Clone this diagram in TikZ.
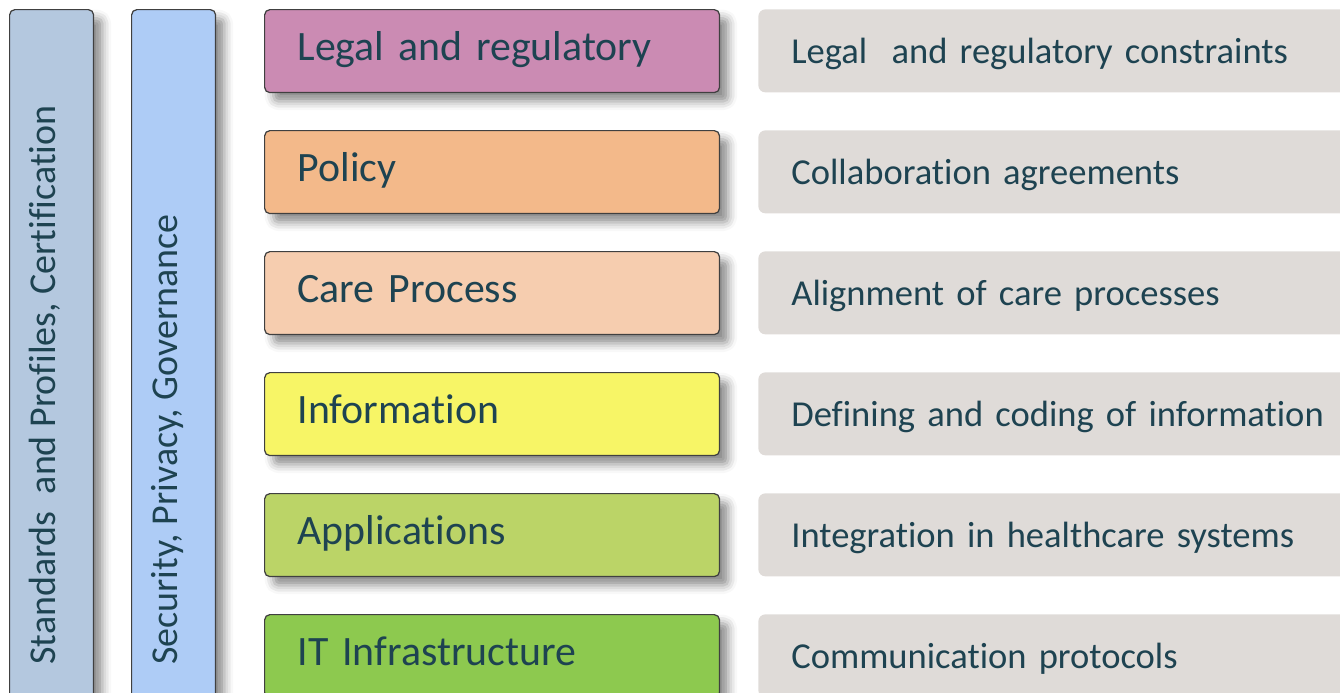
\documentclass[tikz,border=0pt]{standalone}
\usepackage{fontspec}
\setmainfont{Carlito}[Ligatures=NoCommon]
\usetikzlibrary{shadows.blur}

\definecolor{txtcol}{HTML}{1E4351}
\definecolor{stdblue}{HTML}{B4C8DF}
\definecolor{secblue}{HTML}{AECCF6}
\definecolor{legalpink}{HTML}{CB8BB3}
\definecolor{policyorange}{HTML}{F3B98A}
\definecolor{careskin}{HTML}{F6CDAF}
\definecolor{infoyellow}{HTML}{F7F566}
\definecolor{appgreen}{HTML}{BBD467}
\definecolor{itgreen}{HTML}{8DC94F}
\definecolor{goalgrey}{HTML}{DFDBD8}

\begin{document}
\begin{tikzpicture}[x=0.02cm,y=-0.02cm]
\useasboundingbox (0,0) rectangle (1340,693);
\clip (0,0) rectangle (1340,693);
\tikzstyle{every node}=[text=txtcol];
\tikzstyle{boxshadow}=[blur shadow={shadow xshift=5pt,shadow yshift=-5pt,shadow blur radius=5pt,shadow opacity=45}];
\tikzstyle{bar}=[draw=black!75,line width=0.7pt,rounded corners=3pt,anchor=north west,minimum width=1.68cm,minimum height=15cm,boxshadow];
\tikzstyle{barlabel}=[rotate=90,anchor=base west,inner sep=0pt,font=\fontsize{21.6}{25}\selectfont];
\tikzstyle{layer}=[draw=black!75,line width=0.7pt,rounded corners=3pt,anchor=north west,minimum width=9.1cm,minimum height=1.66cm,text width=7.78cm,inner xsep=0.66cm,align=left,text height=0.58cm,text depth=0.2cm,font=\fontsize{23.8}{28}\selectfont,boxshadow];
\tikzstyle{goal}=[fill=goalgrey,rounded corners=4pt,anchor=north west,minimum width=14cm,minimum height=1.66cm,text width=12.68cm,inner xsep=0.66cm,align=left,text height=0.6cm,text depth=0.1cm,font=\fontsize{20.8}{24}\selectfont];

% vertical bars
\node[bar,fill=stdblue] (std) at (9,9) {};
\node[bar,fill=secblue] (sec) at (131,9) {};
\node[barlabel] (stdlabel) at (55,665) {Standards\ \ and Profiles, Certification};
\node[barlabel] (seclabel) at (177,665) {Security, Privacy, Governance};

% layers
\node[layer,fill=legalpink] (legal) at (264,9) {Legal and regulatory};
\node[layer,fill=policyorange] (policy) at (264,130) {Policy};
\node[layer,fill=careskin] (care) at (264,251) {Care Process};
\node[layer,fill=infoyellow] (info) at (264,372) {Information};
\node[layer,fill=appgreen] (apps) at (264,493) {Applications};
\node[layer,fill=itgreen] (infra) at (264,614) {IT Infrastructure};

% what each layer is about
\node[goal] (legalgoal) at (758,9) {Legal\ \ and regulatory constraints};
\node[goal] (policygoal) at (758,130) {Collaboration agreements};
\node[goal] (caregoal) at (758,251) {Alignment of care processes};
\node[goal] (infogoal) at (758,372) {Defining and coding of information};
\node[goal] (appsgoal) at (758,493) {Integration in healthcare systems};
\node[goal] (infragoal) at (758,614) {Communication protocols};
\end{tikzpicture}
\end{document}
